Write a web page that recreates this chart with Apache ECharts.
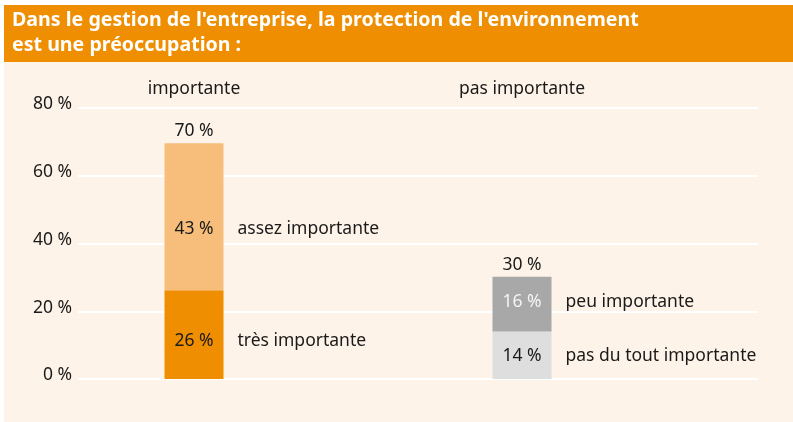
<!DOCTYPE html>
<html>
<head>
<meta charset="utf-8">
<script src="https://cdn.jsdelivr.net/npm/echarts@6/dist/echarts.min.js"></script>
<style>
  html, body { margin: 0; padding: 0; background: #fff; }
  #chart { width: 793px; height: 422px; }
</style>
</head>
<body>
<div id="chart"></div>
<script>
  // data (bar heights are unrounded, labels show rounded values)
  const groups = ['importante', 'pas importante']
  const totals = [70, 30]
  const lowerValues = [26.2, 14]
  const upperValues = [43.4, 16.2]
  const lowerNames = ['très importante', 'pas du tout importante']
  const upperNames = ['assez importante', 'peu importante']
  const yTicks = [0, 20, 40, 60, 80]

  // styles
  const lowerColors = ['#ee8e00', '#dedede']
  const upperColors = ['#f6be7a', '#a8a8a8']
  const lowerValueStyle = ['vd', 'vd']
  const upperValueStyle = ['vd', 'vl']
  const lowerShift = [6, 1]
  const upperShift = [12, -2]
  const font = 'Noto Sans'
  const fs = 17.5
  const ink = '#1a1a1a'

  const chart = echarts.init(document.getElementById('chart'))

  const richStyle = {
    vd: { width: 59, align: 'center', color: ink, fontSize: fs, fontFamily: font },
    vl: { width: 59, align: 'center', color: '#f4f4f4', fontSize: fs, fontFamily: font },
    n: { align: 'center', padding: [0, 0, 0, 14], color: ink, fontSize: fs, fontFamily: font }
  }

  function segData(values, colors, shifts) {
    return values.map((v, i) => ({
      value: v,
      itemStyle: { color: colors[i] },
      label: { offset: [0, shifts[i]] }
    }))
  }

  function segLabel(names, styleKeys) {
    return {
      show: true,
      position: 'insideLeft',
      distance: 0,
      formatter: p => '{' + styleKeys[p.dataIndex] + '|' + Math.round(p.value) + ' %}{n|' + names[p.dataIndex] + '}',
      rich: richStyle
    }
  }

  chart.setOption({
    backgroundColor: '#fff',
    animation: false,
    graphic: [
      { type: 'rect', z: -10, shape: { x: 4, y: 62, width: 789, height: 360 }, style: { fill: '#fef3e8' } },
      { type: 'rect', z: -10, shape: { x: 4, y: 5, width: 789, height: 57 }, style: { fill: '#ee8e00' } }
    ],
    title: {
      text: "Dans le gestion de l'entreprise, la protection de l'environnement\nest une préoccupation :",
      left: 12,
      top: 8,
      padding: 0,
      textStyle: { color: '#fff', fontSize: 19.6, fontWeight: 'bold', fontFamily: font, lineHeight: 25 }
    },
    grid: [
      { left: 78, right: 35, top: 108, bottom: 43 },
      { left: 30, right: 107, top: 108, bottom: 43 }
    ],
    xAxis: [
      { gridIndex: 0, type: 'value', show: false },
      {
        gridIndex: 1,
        type: 'category',
        position: 'top',
        data: groups,
        axisLine: { show: false },
        axisTick: { show: false },
        axisLabel: { color: ink, fontSize: fs, fontFamily: font, margin: 10 }
      }
    ],
    yAxis: [
      {
        gridIndex: 0,
        type: 'value',
        min: yTicks[0],
        max: yTicks[yTicks.length - 1],
        interval: 20,
        axisLine: { show: false },
        axisTick: { show: false },
        axisLabel: {
          color: ink, fontSize: fs, fontFamily: font, margin: 6,
          verticalAlign: 'bottom',
          lineHeight: 7,
          formatter: '{value} %'
        },
        splitLine: { lineStyle: { color: '#ffffff', width: 2 } }
      },
      { gridIndex: 1, type: 'value', min: 0, max: 80, show: false }
    ],
    series: [
      {
        name: 'lower',
        type: 'bar',
        xAxisIndex: 1,
        yAxisIndex: 1,
        stack: 'a',
        barWidth: 59,
        data: segData(lowerValues, lowerColors, lowerShift),
        label: segLabel(lowerNames, lowerValueStyle)
      },
      {
        name: 'upper',
        type: 'bar',
        xAxisIndex: 1,
        yAxisIndex: 1,
        stack: 'a',
        barWidth: 59,
        data: segData(upperValues, upperColors, upperShift),
        label: segLabel(upperNames, upperValueStyle)
      },
      {
        name: 'total',
        type: 'bar',
        xAxisIndex: 1,
        yAxisIndex: 1,
        stack: 'a',
        barWidth: 59,
        data: totals.map(() => 0),
        itemStyle: { color: 'transparent' },
        label: {
          show: true,
          position: 'top',
          distance: 3,
          color: ink,
          fontSize: fs,
          fontFamily: font,
          formatter: p => totals[p.dataIndex] + ' %'
        }
      }
    ]
  })
</script>
</body>
</html>
